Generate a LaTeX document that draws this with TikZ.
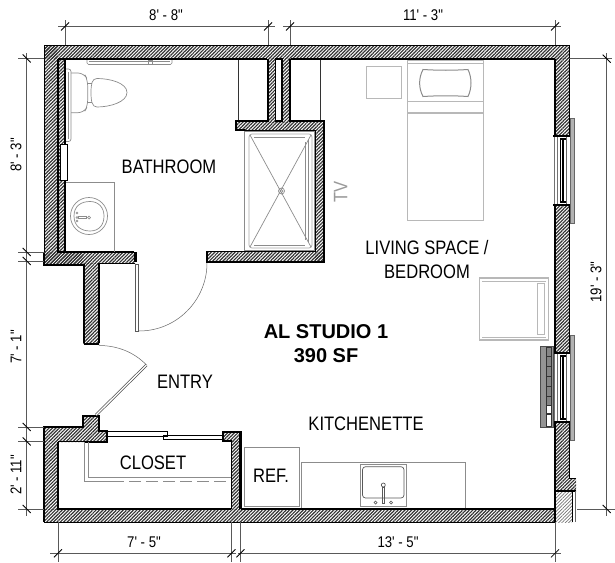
\documentclass[tikz,border=0pt]{standalone}
\usepackage{fontspec}
\setmainfont{Liberation Sans}
\newfontfamily\plansans[FakeStretch=0.85]{Liberation Sans}
\usetikzlibrary{patterns.meta}
\tikzset{
  wallhatch/.style={pattern={Lines[angle=45,distance=2.4pt,line width=1.2pt]},pattern color=black!80},
  softhatch/.style={pattern={Lines[angle=45,distance=2.4pt,line width=0.7pt]},pattern color=black!55},
  wallthick/.style={line width=2.8pt,line cap=square},
  wallthin/.style={line width=1pt},
  fixture/.style={draw=black!45,line width=0.7pt},
  lightfix/.style={draw=black!28,line width=1pt},
  dimline/.style={draw=black!65,line width=0.6pt},
  dimtick/.style={draw=black,line width=0.8pt},
  doorleaf/.style={draw=black!70,double=white,line width=0.7pt,double distance=1.3pt},
  dimtext/.style={font=\plansans\fontsize{15.5}{16}\selectfont,inner sep=0pt},
  roomtext/.style={font=\plansans\fontsize{19.5}{20}\selectfont,inner sep=0pt},
  titletext/.style={font=\bfseries\fontsize{20}{21}\selectfont,inner sep=0pt}
}
\begin{document}
\begin{tikzpicture}[x=1pt,y=-1pt]
\useasboundingbox (0,0) rectangle (615,562);

% hatched walls
\fill[wallhatch] (44,45) rectangle (569,58);
\fill[wallhatch] (44,45) rectangle (57,265);
\fill[wallhatch] (57,58) rectangle (65,252);
\fill[wallhatch] (57,252) rectangle (135,263);
\fill[wallhatch] (44,252) rectangle (83,265);
\fill[wallhatch] (83,263) rectangle (99,344);
\fill[wallhatch] (269,58) rectangle (289,122);
\fill[wallhatch] (236,122) rectangle (323,130);
\fill[wallhatch] (315,130) rectangle (323,262);
\fill[wallhatch] (207,252) rectangle (323,262);
\fill[wallhatch] (556,58) rectangle (569,136);
\fill[wallhatch] (556,205) rectangle (569,353);
\fill[wallhatch] (556,422) rectangle (569,491);
\fill[wallhatch] (569,478) rectangle (576,491);
\fill[wallhatch] (44,509) rectangle (555,522);
\fill[wallhatch] (44,427) rectangle (57,509);
\fill[wallhatch] (57,427) -- (83,427) -- (83,416) -- (99,416) -- (99,431) -- (107,431) -- (107,442) -- (57,442) -- cycle;
\fill[wallhatch] (222,431) rectangle (240,441);
\fill[wallhatch] (232,441) rectangle (240,509);
\fill[softhatch] (556,492) rectangle (572,522);

% top and left outline
\draw[wallthin] (44,45) -- (569,45);
\draw[wallthin] (44,45) -- (44,252);
\draw[wallthick] (58,59) -- (267,59);
\draw[wallthick] (291,59) -- (555,59);
\draw[wallthick] (58,59) -- (58,252) -- (134,252);
\draw[wallthick] (65,59) -- (65,144);
\draw[wallthick] (65,180) -- (65,251);
\draw[wallthick] (44,253) -- (44,265) -- (84,265) -- (84,343);
\draw[wallthick] (99,263) -- (99,343);
\draw[wallthin] (99,263) -- (135,263);
\draw[wallthick] (135.5,252) -- (135.5,262);
\draw[wallthick] (84,344) -- (99,344);
\draw[draw=black,fill=white,line width=0.8pt] (60.5,144) rectangle (67,180);

% chase and shower walls
\draw[wallthick] (268,59) -- (268,121) -- (236,121) -- (236,130) -- (245,130);
\draw[wallthick] (290,59) -- (290,121) -- (324,121) -- (324,262) -- (207,262);
\draw[wallthin] (207,251.5) -- (245,251.5);
\draw[wallthick,line cap=butt] (207,251) -- (207,263);
\draw[wallthin] (245,130) -- (315,130) -- (315,251) -- (245,251);
\draw[draw=black,fill=white,line width=1.4pt] (275.5,59) rectangle (282,121);
\draw[draw=black!80,line width=0.9pt] (238,60) -- (238,120);
\draw[draw=black!80,line width=0.9pt] (320,60) -- (320,120);

% right one
\draw[wallthick] (555,59) -- (555,135);
\draw[wallthick] (555,205) -- (555,353);
\draw[wallthick] (555,422) -- (555,522);
\draw[wallthin] (569,45) -- (569,135);
\draw[wallthick] (553,136) -- (570,136);
\draw[wallthick] (553,205) -- (570,205);
\draw[wallthin] (569,205) -- (569,353);
\draw[wallthick] (553,353) -- (570,353);
\draw[wallthick] (553,422) -- (570,422);
\draw[wallthin] (569,422) -- (569,478) -- (576,478);
\draw[wallthick,line width=1.6pt] (555,491) -- (576,491);
\draw[wallthin] (572.5,491) -- (572.5,522);
\draw[draw=black!60,line width=0.7pt] (575.5,491) -- (575.5,522);

% windows
\draw[draw=black!60,fill=black!30,line width=0.7pt] (570,118) rectangle (574,223);
\draw[draw=black!60,fill=black!30,line width=0.7pt] (570,335) rectangle (574,440);
\draw[draw=black!55,line width=0.8pt] (554,137) -- (554,204);
\draw[draw=black!55,line width=0.8pt] (557,137) -- (557,204);
\draw[line width=2.5pt] (563,140) -- (563,201);
\draw[line width=0.7pt] (560,140) -- (560,201);
\draw[draw=black!60,line width=0.8pt] (566.5,137) -- (566.5,204);
\draw[line width=2pt] (560,139) -- (566,139);
\draw[line width=2pt] (560,202) -- (566,202);
\draw[draw=black!55,line width=0.8pt] (554,354) -- (554,421);
\draw[draw=black!55,line width=0.8pt] (557,354) -- (557,421);
\draw[line width=2.5pt] (563,357) -- (563,418);
\draw[line width=0.7pt] (560,357) -- (560,418);
\draw[draw=black!60,line width=0.8pt] (566.5,354) -- (566.5,421);
\draw[line width=2pt] (560,356) -- (566,356);
\draw[line width=2pt] (560,419) -- (566,419);

% blind
\draw[draw=black!70,fill=black!42,line width=0.7pt] (540,346) rectangle (553,427);
\draw[draw=black!80,fill=black!48,line width=0.6pt] (546,347) rectangle (551.5,356);
\draw[draw=black!80,fill=black!48,line width=0.6pt] (546,356) rectangle (551.5,366);
\draw[draw=black!80,fill=black!48,line width=0.6pt] (546,366) rectangle (551.5,376);
\draw[draw=black!80,fill=black!48,line width=0.6pt] (546,376) rectangle (551.5,386);
\draw[draw=black!80,fill=black!48,line width=0.6pt] (546,386) rectangle (551.5,396);
\draw[draw=black!80,fill=black!48,line width=0.6pt] (546,396) rectangle (551.5,405);
\draw[draw=black!80,fill=white,line width=0.6pt] (546,405) rectangle (551.5,413);
\draw[draw=black!80,fill=white,line width=0.6pt] (546,414) rectangle (551.5,426);

% bottom and closet
\draw[wallthin] (44,522) -- (555,522);
\draw[wallthick] (241,509) -- (555,509);
\draw[wallthick] (44,522) -- (44,427) -- (83,427) -- (83,416) -- (99,416) -- (99,431) -- (107,431) -- (107,442) -- (84,442);
\draw[wallthin] (84,441.5) -- (58,441.5);
\draw[wallthick] (58,442) -- (58,509) -- (231,509);
\draw[wallthin] (231.5,441) -- (231.5,509);
\draw[wallthick] (223,441) -- (223,432) -- (240.5,432) -- (240.5,509);
\draw[wallthick,line cap=butt] (222,441) -- (232,441);
\draw[wallthin] (107,431.5) -- (167,431.5) -- (167,436) -- (107,436);
\draw[wallthin] (163,435.5) -- (222,435.5);
\draw[wallthin] (163,435.5) -- (163,439.5) -- (222,439.5);

% shelf in the closet
\draw[fixture] (84.3,442) -- (84.3,481) -- (112,481);
\draw[fixture,dash pattern=on 12pt off 5pt] (112,481) -- (231,481);
\draw[fixture] (88.5,442) -- (88.5,477.3) -- (231,477.3);

% doors
\draw[draw=black!65,line width=0.8pt] (135.3,264) rectangle (138.8,331);
\draw[draw=black!60,line width=0.5pt] (139,331) .. controls (177,331) and (207,300) .. (207,263);
\draw[doorleaf] (96,415) -- (146.5,365);
\draw[draw=black!60,line width=0.5pt] (99,345.5) .. controls (117,345.5) and (134,352) .. (146.5,365);

% grab bars and toilet
\draw[fixture,rounded corners=1.5pt] (87,60) -- (87,64.5) -- (172,64.5) -- (172,60);
\draw[fixture] (89,61.5) -- (170,61.5);
\draw[fixture] (148,60) rectangle (152,64);
\draw[fixture,rounded corners=2.5pt] (66,69) -- (71,69) -- (71,141.5) -- (66,141.5);
\draw[fixture] (68.5,72) -- (68.5,139);
\draw[fixture,rounded corners=6pt] (71,73) -- (84,73) -- (87.7,80) -- (87.7,106) -- (84,112.7) -- (71,112.7);
\draw[fixture] (87.7,83) -- (92,83);
\draw[fixture] (87.7,102) -- (92,102);
\draw[fixture] (97,78.5) .. controls (92,78.5) and (91,84) .. (91,92.5) .. controls (91,101) and (92,107) .. (97,107) .. controls (110,107) and (127,102) .. (127,92.5) .. controls (127,83) and (110,78.5) .. (97,78.5) -- cycle;

% sink
\draw[fixture] (66,182) -- (114.5,182) -- (114.5,252);
\draw[fixture] (89,216) circle (18.5);
\draw[fixture] (74,216) .. controls (74,206) and (81,201.5) .. (90,201.5) .. controls (99,201.5) and (104,208) .. (104,216) .. controls (104,225) and (99,231) .. (90,231) .. controls (81,231) and (74,226) .. (74,216) -- cycle;
\draw[fixture] (78,216.8) rectangle (86,218.5);
\draw[fixture] (89,217.5) circle (1.5);
\draw[fixture] (77,213) circle (1);
\draw[fixture] (77,217.5) circle (1);
\draw[fixture] (77,221) circle (1);

% shower
\draw[fixture] (244,131) rectangle (314,250);
\draw[fixture,draw=black!35,rounded corners=3pt] (249,134) rectangle (312,248);
\draw[fixture] (254,137) -- (305,137);
\draw[fixture] (254,245) -- (305,245);
\draw[fixture] (305,142) -- (305,240);
\draw[fixture] (308,140) -- (308,242);
\draw[fixture] (250,135) -- (311,247);
\draw[fixture] (311,135) -- (250,247);
\draw[fixture] (281.5,191) circle (3);
\draw[fixture] (281.5,191) circle (1.5);

% furniture
\draw[lightfix] (366,66.7) rectangle (401.7,98.3);
\draw[lightfix] (407.3,60) rectangle (483.7,220);
\draw[lightfix] (407.3,63.5) -- (483.7,63.5);
\draw[lightfix] (407.3,101.5) -- (483.7,101.5);
\draw[lightfix,line width=1.4pt] (407.3,113) -- (483.7,113);
\draw[lightfix,draw=black!45] (423,69.5) .. controls (440,70.5) and (452,70.5) .. (468,69.5) .. controls (472,78) and (472,88) .. (468,96.5) .. controls (452,95.5) and (440,95.5) .. (423,96.5) .. controls (418.5,88) and (418.5,78) .. (423,69.5) -- cycle;
\draw[lightfix,line width=1.4pt] (479.5,278) rectangle (548.5,340);
\draw[lightfix] (537.5,283) rectangle (544,334);
\draw[lightfix] (482,281) -- (546,281);
\draw[lightfix] (482,337) -- (546,337);

% kitchenette
\draw[fixture] (244,447.3) rectangle (299,506.7);
\draw[fixture] (301,508) -- (301,462) -- (465.7,462) -- (465.7,508);
\draw[fixture] (360,464) rectangle (406.7,506.7);
\draw[fixture,draw=black!65,rounded corners=3pt] (362.5,466.7) rectangle (404,498);
\draw[fixture,draw=black!65] (383.3,485) circle (2);
\draw[fixture,draw=black!65] (382,487) rectangle (384.6,503);
\draw[fixture,draw=black!65] (375.5,502.5) circle (1.5);
\draw[fixture,draw=black!65] (391,502.5) circle (1.5);

% dimensions on top
\draw[dimline] (58,26.5) -- (275,26.5);
\draw[dimline] (283,26.5) -- (561,26.5);
\draw[dimline] (65,20) -- (65,45);
\draw[dimline] (268,20) -- (268,45);
\draw[dimline] (290,20) -- (290,45);
\draw[dimline] (555,20) -- (555,45);
\draw[dimtick] (61,30.5) -- (69,22.5);
\draw[dimtick] (264,30.5) -- (272,22.5);
\draw[dimtick] (286,30.5) -- (294,22.5);
\draw[dimtick] (551,30.5) -- (559,22.5);

% dimensions on the left
\draw[dimline] (26.7,53) -- (26.7,516);
\draw[dimline] (18,58.5) -- (44,58.5);
\draw[dimline] (18,252) -- (44,252);
\draw[dimline] (18,261) -- (44,261);
\draw[dimline] (18,427) -- (44,427);
\draw[dimline] (18,441.5) -- (44,441.5);
\draw[dimline] (18,509) -- (44,509);
\draw[dimtick] (22.7,54.5) -- (30.7,62.5);
\draw[dimtick] (22.7,248) -- (30.7,256);
\draw[dimtick] (22.7,257) -- (30.7,265);
\draw[dimtick] (22.7,423) -- (30.7,431);
\draw[dimtick] (22.7,437.5) -- (30.7,445.5);
\draw[dimtick] (22.7,505) -- (30.7,513);

% dimensions on the right
\draw[dimline] (606.7,53) -- (606.7,516);
\draw[dimline] (569,58.7) -- (612,58.7);
\draw[dimline] (577,509) -- (615,509);
\draw[dimtick] (602.7,54.7) -- (610.7,62.7);
\draw[dimtick] (602.7,505) -- (610.7,513);

% dimensions at the bottom
\draw[dimline] (50,553.3) -- (236,553.3);
\draw[dimline] (238,553.3) -- (561,553.3);
\draw[dimline] (58,522) -- (58,562);
\draw[dimline] (231.5,522) -- (231.5,562);
\draw[dimline] (240.5,522) -- (240.5,562);
\draw[dimline] (555,522) -- (555,562);
\draw[dimtick] (54,557.3) -- (62,549.3);
\draw[dimtick] (227.5,557.3) -- (235.5,549.3);
\draw[dimtick] (236.5,557.3) -- (244.5,549.3);
\draw[dimtick] (551,557.3) -- (559,549.3);

% texts
\node[dimtext] (dimbathw) at (166,15) {8' - 8"};
\node[dimtext] (dimlivew) at (423,15) {11' - 3"};
\node[dimtext,rotate=90] (dimbathh) at (16,155) {8' - 3"};
\node[dimtext,rotate=90] (dimentryh) at (16,347) {7' - 1"};
\node[dimtext,rotate=90] (dimcloseth) at (16,475) {2' - 11"};
\node[dimtext,rotate=90] (dimtotalh) at (596,282) {19' - 3"};
\node[dimtext] (dimclosetw) at (144,542) {7' - 5"};
\node[dimtext] (dimkitchw) at (398,542) {13' - 5"};
\node[roomtext] (bathroom) at (169,167) {BATHROOM};
\node[roomtext,text=black!40,rotate=90] (tv) at (340.7,192) {TV};
\node[roomtext] (living) at (427,248) {LIVING SPACE /};
\node[roomtext] (bedroom) at (427,272) {BEDROOM};
\node[titletext] (studio) at (326,332) {AL STUDIO 1};
\node[titletext] (area) at (326,356) {390 SF};
\node[roomtext] (entry) at (185,382) {ENTRY};
\node[roomtext] (kitchenette) at (366,424) {KITCHENETTE};
\node[roomtext] (closet) at (153,463) {CLOSET};
\node[roomtext] (ref) at (271,476) {REF.};

\end{tikzpicture}
\end{document}
